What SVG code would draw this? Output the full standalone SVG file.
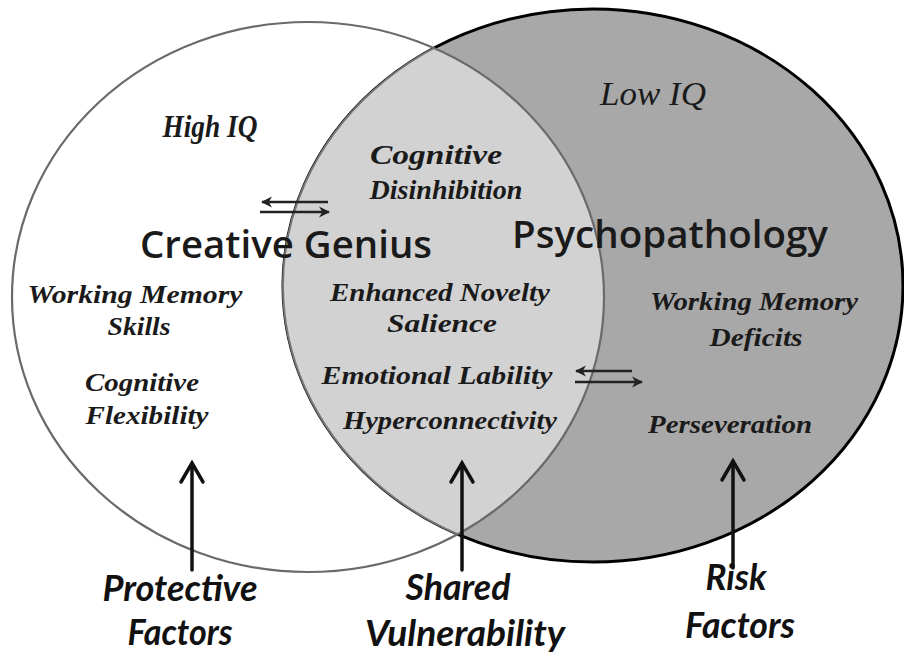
<svg xmlns="http://www.w3.org/2000/svg" width="904" height="653" viewBox="0 0 904 653">
<style>
.ser{font-family:"Liberation Serif","Times New Roman",serif;font-style:italic;font-weight:bold;fill:#1a1a1a;text-anchor:middle}
.thin{font-weight:normal}
.big{font-family:"Open Sans",Lato,"Liberation Sans",sans-serif;font-weight:600;font-size:37px;fill:#1a1a1a;text-anchor:middle}
.lab{font-family:Lato,"Liberation Sans",sans-serif;font-style:italic;font-weight:bold;font-size:36px;fill:#111;text-anchor:middle}
.arr{stroke:#111;stroke-width:3.5;fill:none;stroke-linecap:round;stroke-linejoin:miter}
.dbl{stroke:#222;stroke-width:2.5;fill:none}
</style>
<defs>
<clipPath id="leftClip"><ellipse cx="308" cy="297" rx="296" ry="275"/></clipPath>
<marker id="hd" viewBox="0 0 10 10" refX="9" refY="5" markerWidth="4.5" markerHeight="4.5" orient="auto" markerUnits="strokeWidth">
<path d="M0,0 L10,5 L0,10 L3,5 Z" fill="#222"/>
</marker>
</defs>
<rect width="904" height="653" fill="#fff"/>
<g id="creative-genius">
<ellipse cx="308" cy="297" rx="296" ry="275" fill="#fff"/>
</g>
<g id="psychopathology">
<ellipse cx="593" cy="285.5" rx="310" ry="276.5" fill="#a8a8a8" stroke="#000" stroke-width="3"/>
</g>
<g id="shared">
<ellipse cx="593" cy="285.5" rx="310" ry="276.5" fill="#d2d2d2" stroke="#777" stroke-width="2" clip-path="url(#leftClip)"/>
<ellipse cx="308" cy="297" rx="296" ry="275" fill="none" stroke="#6a6a6a" stroke-width="2.2"/>
</g>
<g id="left-texts">
<text class="ser" x="210" y="137" font-size="31" textLength="95" lengthAdjust="spacingAndGlyphs">High IQ</text>
<text class="big" x="286" y="258" textLength="292" lengthAdjust="spacingAndGlyphs">Creative Genius</text>
<text class="ser" x="135" y="303" font-size="26" textLength="215" lengthAdjust="spacingAndGlyphs">Working Memory</text>
<text class="ser" x="139" y="335" font-size="26" textLength="63" lengthAdjust="spacingAndGlyphs">Skills</text>
<text class="ser" x="142" y="391" font-size="26" textLength="114" lengthAdjust="spacingAndGlyphs">Cognitive</text>
<text class="ser" x="147" y="424" font-size="26" textLength="123" lengthAdjust="spacingAndGlyphs">Flexibility</text>
</g>
<g id="shared-texts">
<text class="ser" x="436" y="164" font-size="28" textLength="132" lengthAdjust="spacingAndGlyphs">Cognitive</text>
<text class="ser" x="446" y="199" font-size="28" textLength="153" lengthAdjust="spacingAndGlyphs">Disinhibition</text>
<text class="ser" x="440" y="301" font-size="26" textLength="220" lengthAdjust="spacingAndGlyphs">Enhanced Novelty</text>
<text class="ser" x="442" y="332" font-size="26" textLength="110" lengthAdjust="spacingAndGlyphs">Salience</text>
<text class="ser" x="437" y="384" font-size="26" textLength="231" lengthAdjust="spacingAndGlyphs">Emotional Lability</text>
<text class="ser" x="450" y="429" font-size="26" textLength="214" lengthAdjust="spacingAndGlyphs">Hyperconnectivity</text>
</g>
<g id="right-texts">
<text class="ser thin" x="653" y="105" font-size="33" textLength="106" lengthAdjust="spacingAndGlyphs">Low IQ</text>
<text class="big" x="670" y="248" textLength="316" lengthAdjust="spacingAndGlyphs">Psychopathology</text>
<text class="ser" x="754" y="310" font-size="26" textLength="208" lengthAdjust="spacingAndGlyphs">Working Memory</text>
<text class="ser" x="756" y="346" font-size="26" textLength="93" lengthAdjust="spacingAndGlyphs">Deficits</text>
<text class="ser" x="730" y="433" font-size="26" textLength="164" lengthAdjust="spacingAndGlyphs">Perseveration</text>
</g>
<g id="protective-factors">
<text class="lab" x="180" y="601" textLength="155" lengthAdjust="spacingAndGlyphs">Protective</text>
<text class="lab" x="180" y="645" textLength="105" lengthAdjust="spacingAndGlyphs">Factors</text>
</g>
<g id="shared-vulnerability">
<text class="lab" x="458" y="600" textLength="105" lengthAdjust="spacingAndGlyphs">Shared</text>
<text class="lab" x="465" y="646" textLength="200" lengthAdjust="spacingAndGlyphs">Vulnerability</text>
</g>
<g id="risk-factors">
<text class="lab" x="736" y="590" textLength="61" lengthAdjust="spacingAndGlyphs">Risk</text>
<text class="lab" x="740" y="638" textLength="110" lengthAdjust="spacingAndGlyphs">Factors</text>
</g>
<g id="connectors">
<line class="arr" x1="192" y1="570" x2="192" y2="464"/>
<polyline class="arr" points="181,482 192,463 203,482"/>
<line class="arr" x1="462" y1="570" x2="462" y2="464"/>
<polyline class="arr" points="451,482 462,463 473,482"/>
<line class="arr" x1="733" y1="568" x2="733" y2="462"/>
<polyline class="arr" points="722,480 733,461 744,480"/>
<line class="dbl" x1="328" y1="202" x2="262" y2="202" marker-end="url(#hd)"/>
<line class="dbl" x1="260" y1="212" x2="329" y2="212" marker-end="url(#hd)"/>
<line class="dbl" x1="632" y1="371" x2="576" y2="371" marker-end="url(#hd)"/>
<line class="dbl" x1="575" y1="382" x2="642" y2="382" marker-end="url(#hd)"/>
</g>
</svg>
